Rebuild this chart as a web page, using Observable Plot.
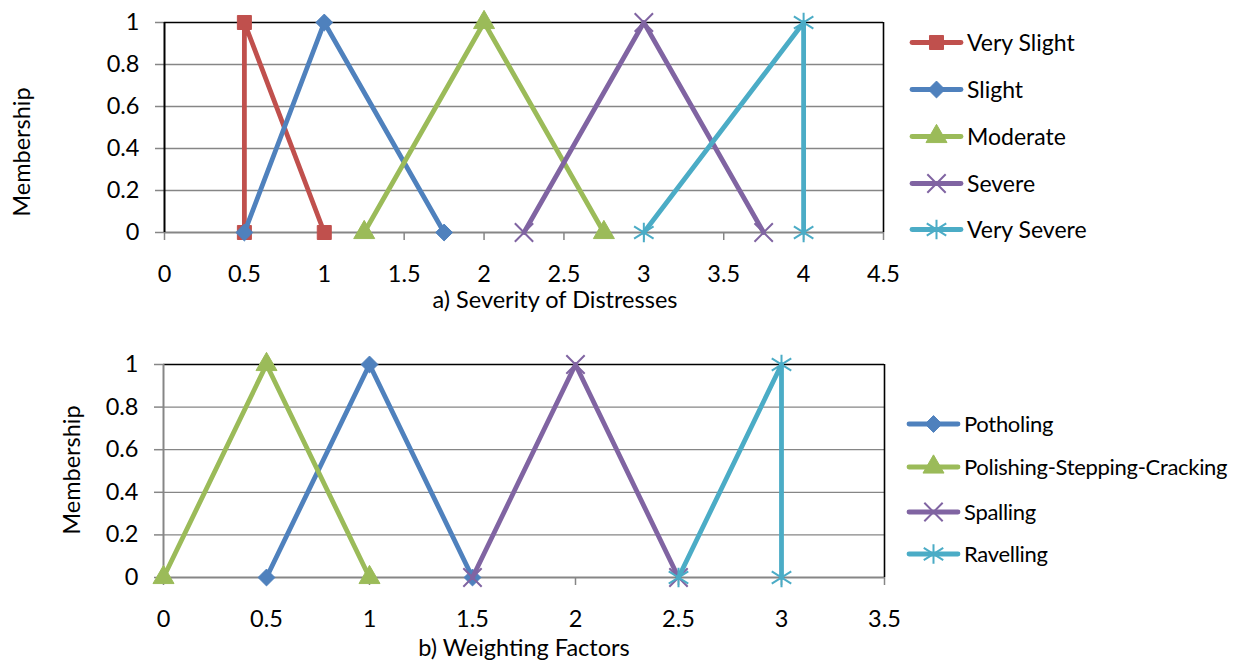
<!DOCTYPE html>
<html><head><meta charset="utf-8">
<script src="https://cdn.jsdelivr.net/npm/d3@7"></script>
<script src="https://cdn.jsdelivr.net/npm/@observablehq/plot@0.6"></script>
<style>
body{margin:0;background:#fff;font-family:Lato,sans-serif;}
#wrap{position:relative;width:1243px;height:662px;overflow:hidden;background:#fff}
.plot{position:absolute;left:0}
.lab{position:absolute;font-size:23.5px;line-height:1;color:#000;white-space:nowrap;transform:translate(-50%,-50%)}
.ylab{position:absolute;font-size:23.5px;line-height:1;color:#000;white-space:nowrap;transform:translate(-50%,-50%) rotate(-90deg)}
.leg{position:absolute;display:flex;align-items:center;font-size:23px;line-height:1;white-space:nowrap;transform:translateY(-50%)}
.leg.b{font-size:22px;letter-spacing:-0.3px}
.leg svg{margin-right:4px;overflow:visible}
</style></head><body><div id="wrap"></div>
<script>
// ---- data ----
const severityNames = ["Very Slight", "Slight", "Moderate", "Severe", "Very Severe"];
const severityX = [[0.5, 0.5, 1], [0.5, 1, 1.75], [1.25, 2, 2.75], [2.25, 3, 3.75], [3, 4, 4]];
const severityY = [[0, 1, 0], [0, 1, 0], [0, 1, 0], [0, 1, 0], [0, 1, 0]];
const severityColors = ["#C0504D", "#4F81BD", "#9BBB59", "#8064A2", "#4BACC6"];
const severitySymbols = ["square", "diamond", "triangle", "times", "star"];
const severityTicks = [0, 0.5, 1, 1.5, 2, 2.5, 3, 3.5, 4, 4.5];

const weightNames = ["Potholing", "Polishing-Stepping-Cracking", "Spalling", "Ravelling"];
const weightX = [[0.5, 1, 1.5], [0, 0.5, 1], [1.5, 2, 2.5], [2.5, 3, 3]];
const weightY = [[0, 1, 0], [0, 1, 0], [0, 1, 0], [0, 1, 0]];
const weightColors = ["#4F81BD", "#9BBB59", "#8064A2", "#4BACC6"];
const weightSymbols = ["diamond", "triangle", "times", "star"];
const weightTicks = [0, 0.5, 1, 1.5, 2, 2.5, 3, 3.5];

const membershipTicks = [0, 0.2, 0.4, 0.6, 0.8, 1];

// ---- symbols (Excel-like markers) ----
const excelStar = {draw(ctx, size) {
  const r = Math.sqrt(size) / 2, d = r * 0.62;
  ctx.moveTo(0, -r); ctx.lineTo(0, r);
  ctx.moveTo(-r, -d); ctx.lineTo(r, d);
  ctx.moveTo(-r, d); ctx.lineTo(r, -d);
}};
const symbolSpec = {
  square:   {symbol: "square",   r: 7.9, filled: true},
  diamond:  {symbol: d3.symbolDiamond2, r: 7.6, filled: true},
  triangle: {symbol: "triangle", r: 7.8, filled: true},
  times:    {symbol: "times",    r: 8.4, filled: false},
  star:     {symbol: excelStar,  r: 11,  filled: false}
};

const wrap = document.getElementById("wrap");

function chart({names, xs, ys, colors, syms, xTicks, top, height, mt, mb, ml, mr, leftColor}) {
  const rows = names.flatMap((n, i) => xs[i].map((x, j) => ({name: n, i, x, y: ys[i][j]})));
  const xDomain = [xTicks[0], xTicks[xTicks.length - 1]];
  const marks = [
    Plot.ruleY(membershipTicks.filter(t => t > 0 && t < 1), {y: d => d, stroke: "#868686", strokeWidth: 1.3}),
    Plot.axisX({ticks: xTicks, tickSize: 8, tickPadding: 25, stroke: "#868686", strokeWidth: 1.5, fill: "#000", tickFormat: d => String(d), label: null}),
    Plot.axisY({ticks: membershipTicks, tickSize: 9, tickPadding: 16, stroke: "#868686", strokeWidth: 1.5, fill: "#000", tickFormat: d => String(d), label: null}),
    Plot.ruleY([0], {y: d => d, stroke: "#868686", strokeWidth: 2}),
    Plot.ruleY([1], {y: d => d, stroke: "#000", strokeWidth: 1.6}),
    Plot.ruleX([xDomain[1]], {x: d => d, stroke: "#000", strokeWidth: 1.6}),
    Plot.ruleX([xDomain[0]], {x: d => d, stroke: leftColor, strokeWidth: 2})
  ];
  names.forEach((n, k) => {
    const data = rows.filter(d => d.i === k);
    const s = symbolSpec[syms[k]];
    marks.push(Plot.line(data, {x: "x", y: "y", stroke: colors[k], strokeWidth: 4.8, strokeLinejoin: "round"}));
    marks.push(Plot.dot(data, {x: "x", y: "y", symbol: s.symbol, r: s.r,
      fill: s.filled ? colors[k] : "none", stroke: colors[k], strokeWidth: s.filled ? 1 : 2}));
  });
  const svg = Plot.plot({
    width: 1243, height, marginTop: mt, marginBottom: mb, marginLeft: ml, marginRight: mr,
    x: {domain: xDomain},
    y: {domain: [0, 1]},
    style: {fontFamily: "Lato, sans-serif", fontSize: "23.5px", color: "#000", background: "transparent", overflow: "visible"},
    marks
  });
  svg.classList.add("plot");
  svg.style.top = top + "px";
  svg.style.position = "absolute";
  wrap.appendChild(svg);
}

chart({names: severityNames, xs: severityX, ys: severityY, colors: severityColors, syms: severitySymbols,
  xTicks: severityTicks, top: 0, height: 331, mt: 22, mb: 99, ml: 164, mr: 360, leftColor: "#000"});
chart({names: weightNames, xs: weightX, ys: weightY, colors: weightColors, syms: weightSymbols,
  xTicks: weightTicks, top: 331, height: 331, mt: 33, mb: 85, ml: 163, mr: 359, leftColor: "#868686"});

function label(cls, text, x, y) {
  const d = document.createElement("div");
  d.className = cls; d.textContent = text;
  d.style.left = x + "px"; d.style.top = y + "px";
  wrap.appendChild(d);
}
label("ylab", "Membership", 22, 152);
label("ylab", "Membership", 72, 470);
label("lab", "a) Severity of Distresses", 555, 300);
label("lab", "b) Weighting Factors", 524, 648);

function legend(names, colors, syms, left, ys, cls) {
  names.forEach((n, k) => {
    const s = symbolSpec[syms[k]];
    const item = document.createElement("div");
    item.className = "leg " + cls;
    item.style.left = left + "px"; item.style.top = ys[k] + "px";
    const sv = d3.create("svg").attr("width", 53).attr("height", 20);
    sv.append("line").attr("x1", 2).attr("x2", 51).attr("y1", 10).attr("y2", 10)
      .attr("stroke", colors[k]).attr("stroke-width", 4.8).attr("stroke-linecap", "round");
    const symType = typeof s.symbol === "string" ? {square: d3.symbolSquare, triangle: d3.symbolTriangle, times: d3.symbolTimes}[s.symbol] : s.symbol;
    sv.append("path").attr("transform", "translate(26.5,10)")
      .attr("d", d3.symbol(symType, Math.PI * s.r * s.r)())
      .attr("fill", s.filled ? colors[k] : "none").attr("stroke", colors[k]).attr("stroke-width", s.filled ? 1 : 2);
    item.appendChild(sv.node());
    const t = document.createElement("span"); t.textContent = n;
    item.appendChild(t);
    wrap.appendChild(item);
  });
}
legend(severityNames, severityColors, severitySymbols, 910, [42, 89, 136, 183, 229], "a");
legend(weightNames, weightColors, weightSymbols, 907, [424, 467, 512, 554], "b");
</script></body></html>
